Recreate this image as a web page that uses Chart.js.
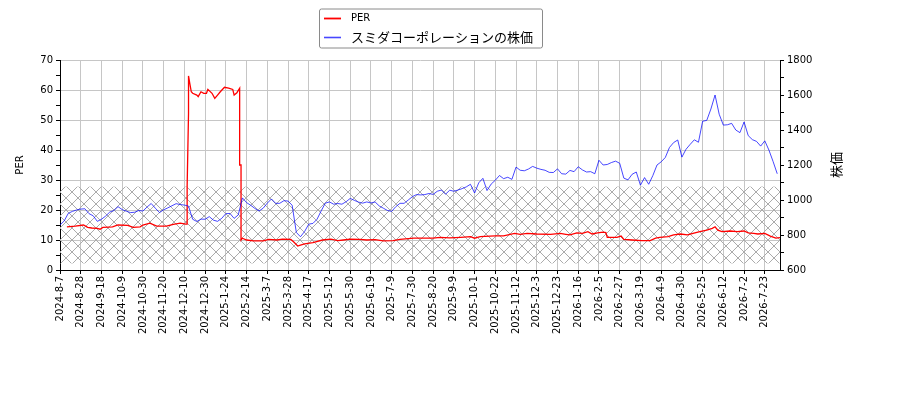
<!DOCTYPE html>
<html><head><meta charset="utf-8">
<style>html,body{margin:0;padding:0;background:#fff;}#wrap{width:900px;height:400px;}</style>
<script src="https://cdn.jsdelivr.net/npm/chart.js@4"></script>
</head><body><div id="wrap"><canvas id="c" width="900" height="400"></canvas></div>
<script>
// x tick labels (one every 15 trading days)
const tickLabels = ['2024-8-7','2024-8-28','2024-9-18','2024-10-9','2024-10-30','2024-11-20','2024-12-10','2024-12-30','2025-1-24','2025-2-14','2025-3-7','2025-3-28','2025-4-17','2025-5-12','2025-5-30','2025-6-19','2025-7-9','2025-7-30','2025-8-20','2025-9-9','2025-10-1','2025-10-22','2025-11-12','2025-12-3','2025-12-23','2026-1-16','2026-2-5','2026-2-27','2026-3-19','2026-4-9','2026-4-30','2026-5-25','2026-6-12','2026-7-2','2026-7-23'];
const tickEvery = 15;
const lastIndex = 521;
// stock price, one value every 3 trading days
const stockStep = 3;
const stockValues = [857,880,924,935,943,948,950,922,910,878,
890,908,931,940,962,945,936,928,930,940,
937,960,980,953,928,944,955,967,979,974,
971,965,890,877,891,890,905,885,878,895,
922,923,895,915,1012,985,970,952,937,953,
982,1006,981,981,996,994,970,815,790,820,
862,866,890,938,982,989,976,980,976,990,
1009,998,988,982,989,983,989,966,953,940,
935,962,981,981,1000,1019,1031,1029,1031,1037,
1032,1050,1057,1033,1056,1050,1057,1065,1075,1090,
1040,1098,1124,1054,1091,1113,1140,1122,1130,1118,
1188,1170,1167,1177,1192,1182,1175,1170,1158,1157,
1178,1150,1148,1169,1162,1190,1172,1160,1162,1150,
1227,1200,1203,1214,1222,1210,1125,1115,1147,1160,
1085,1128,1090,1140,1200,1218,1243,1300,1328,1343,
1245,1290,1318,1344,1330,1450,1455,1520,1600,1490,
1428,1430,1438,1400,1385,1446,1368,1345,1335,1308,
1338,1285,1220,1150];
// PER: trading-day index and value
const perIdx = [5,11,17,20,23,27,29,31,35,38,42,49,53,58,60,65,70,74,77,82,87,91,92,92,93,93,94,95,96,99,100,102,104,106,107,110,112,114,116,119,122,125,126,128,130,130,131,131,132,135,140,147,151,157,161,167,169,172,174,177,183,190,196,201,205,210,217,222,228,234,241,246,256,270,275,282,290,297,300,304,311,315,321,329,333,338,345,355,362,366,369,374,378,382,385,389,393,395,396,403,406,408,414,421,427,431,434,440,444,449,454,458,463,468,472,474,476,479,485,490,495,498,502,505,510,514,518,521];
const perVal = [14.4,14.6,15.0,14.2,14.0,13.9,13.6,14.2,14.3,14.4,15.0,14.9,14.2,14.4,15.0,15.6,14.6,14.6,14.6,15.2,15.6,15.3,15.3,27.8,52.2,64.7,62.0,59.4,58.9,58.3,57.8,59.4,58.9,58.9,60.2,58.9,57.2,58.3,59.4,60.9,60.6,60.2,58.3,59.1,60.6,35.0,35.0,10.0,10.6,10.0,9.7,9.7,10.2,10.0,10.3,10.2,9.4,8.0,8.3,8.7,9.1,10.0,10.3,9.8,10.0,10.3,10.2,10.0,10.1,9.7,9.8,10.2,10.6,10.6,10.9,10.7,10.9,11.1,10.6,11.1,11.3,11.4,11.4,12.2,11.9,12.2,12.0,11.9,12.2,11.9,11.7,12.4,12.2,12.8,12.0,12.4,12.6,12.5,10.9,10.9,11.3,10.2,10.0,9.8,9.8,10.6,10.9,11.1,11.7,12.0,11.7,12.2,12.8,13.3,13.9,14.4,13.3,12.8,13.0,12.8,13.0,12.4,12.2,12.0,12.2,11.3,10.6,10.8];
// hatched band (PER units)
const bandLow = 2.2, bandHigh = 27.8;
const perLabel = 'PER';
const stockLabel = 'スミダコーポレーションの株価';
const leftTitle = 'PER';
const rightTitle = '株価';

const RED = '#ff0000';
const BLUE = 'rgba(0,0,255,0.72)';
const GRID = '#c6c6c6';
const TICKFONT = {family:'DejaVu Sans', size:10};
const JPFONT = '13px "Noto Sans CJK JP"';

const pc = document.createElement('canvas');
pc.width = 12; pc.height = 12;
const pctx = pc.getContext('2d');
pctx.strokeStyle = '#ababab'; pctx.lineWidth = 1;
pctx.beginPath(); pctx.moveTo(-1,-1); pctx.lineTo(13,13); pctx.moveTo(-1,13); pctx.lineTo(13,-1); pctx.stroke();

const deco = {
  id: 'deco',
  beforeDatasetsDraw(chart) {
    const {ctx, chartArea: a, scales} = chart;
    const yT = scales.y.getPixelForValue(bandHigh), yB = scales.y.getPixelForValue(bandLow);
    ctx.save();
    ctx.fillStyle = ctx.createPattern(pc, 'repeat');
    ctx.fillRect(a.left, yT, a.right - a.left, yB - yT);
    ctx.restore();
  },
  afterDraw(chart) {
    const {ctx, chartArea: a} = chart;
    const midY = (a.top + a.bottom) / 2;
    ctx.save();
    ctx.fillStyle = '#000';
    ctx.textAlign = 'center'; ctx.textBaseline = 'middle';
    ctx.font = '10px "DejaVu Sans"';
    ctx.save(); ctx.translate(20, midY); ctx.rotate(-Math.PI/2); ctx.fillText(leftTitle, 0, 0); ctx.restore();
    ctx.font = JPFONT;
    ctx.save(); ctx.translate(836, midY); ctx.rotate(-Math.PI/2); ctx.fillText(rightTitle, 0, 0); ctx.restore();
    // legend
    ctx.font = JPFONT;
    const w2 = ctx.measureText(stockLabel).width;
    const lx = 319, ly = 8.5, textX = lx + 32;
    const bw = (textX - lx) + w2 + 9, bh = 39;
    ctx.fillStyle = 'rgba(255,255,255,0.85)';
    ctx.strokeStyle = '#8a8a8a'; ctx.lineWidth = 1;
    ctx.beginPath();
    if (ctx.roundRect) ctx.roundRect(lx + 0.5, ly + 0.5, bw, bh, 2); else ctx.rect(lx + 0.5, ly + 0.5, bw, bh);
    ctx.fill(); ctx.stroke();
    const rows = [[perLabel, RED, 1.8, '10px "DejaVu Sans"', ly + 10], [stockLabel, BLUE, 1.6, JPFONT, ly + 29]];
    rows.forEach(([t, col, lw, f, y]) => {
      ctx.strokeStyle = col; ctx.lineWidth = lw;
      ctx.beginPath(); ctx.moveTo(lx + 5, y); ctx.lineTo(lx + 22, y); ctx.stroke();
      ctx.fillStyle = '#000'; ctx.font = f; ctx.textAlign = 'left'; ctx.textBaseline = 'middle';
      ctx.fillText(t, textX, y);
    });
    ctx.restore();
  }
};

new Chart(document.getElementById('c'), {
  type: 'line',
  data: {
    datasets: [
      {label: stockLabel, yAxisID: 'y1', order: 0, borderColor: BLUE, borderWidth: 1,
       data: stockValues.map((v, k) => ({x: k * stockStep, y: v}))},
      {label: perLabel, yAxisID: 'y', order: 1, borderColor: RED, borderWidth: 1.3,
       data: perIdx.map((x, i) => ({x, y: perVal[i]}))}
    ]
  },
  options: {
    responsive: false, devicePixelRatio: 1, animation: false,
    elements: {point: {radius: 0}, line: {tension: 0}},
    layout: {padding: {top: 60, left: 0, right: 0, bottom: 0}},
    plugins: {legend: {display: false}, tooltip: {enabled: false}},
    scales: {
      x: {
        type: 'linear', min: 0, max: lastIndex,
        afterBuildTicks(s) { s.ticks = tickLabels.map((_, i) => ({value: i * tickEvery})); },
        afterFit(s) { s.height = 130; },
        ticks: {autoSkip: false, minRotation: 90, maxRotation: 90, padding: 2, font: TICKFONT, color: '#000',
          callback: v => tickLabels[Math.round(v / tickEvery)]},
        grid: {color: GRID, tickColor: '#000', tickLength: 4},
        border: {color: '#000'}
      },
      y: {
        position: 'left', min: 0, max: 70,
        afterFit(s) { s.width = 60; },
        ticks: {stepSize: 5, font: TICKFONT, color: '#000', padding: 3, callback: v => (v % 10 === 0 ? v : '')},
        grid: {color: c => (c.tick && c.tick.value % 10 === 0 ? GRID : 'rgba(0,0,0,0)'), tickColor: '#000', tickLength: 4},
        border: {color: '#000'}
      },
      y1: {
        position: 'right', min: 600, max: 1800,
        afterFit(s) { s.width = 120; },
        ticks: {stepSize: 100, font: TICKFONT, color: '#000', padding: 3, callback: v => (v % 200 === 0 ? v : '')},
        grid: {drawOnChartArea: false, tickColor: '#000', tickLength: 4},
        border: {color: '#000'}
      }
    }
  },
  plugins: [deco]
});
</script></body></html>
